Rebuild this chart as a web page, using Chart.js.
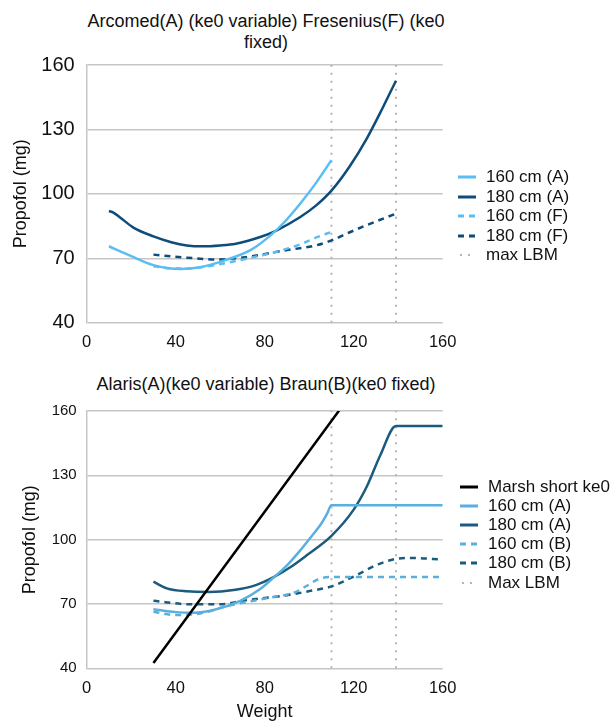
<!DOCTYPE html>
<html>
<head>
<meta charset="utf-8">
<script src="https://cdn.jsdelivr.net/npm/chart.js@4.4.1/dist/chart.umd.min.js"></script>
<style>
    html, body { margin: 0; padding: 0; background: #fff; overflow: hidden; }
    #page { position: relative; width: 614px; height: 721px; font-family: "Liberation Sans", Arial, Helvetica, sans-serif; color: #111; }
    canvas { position: absolute; left: 0; }
    .title { position: absolute; left: 0; width: 532px; text-align: center; font-size: 18px; line-height: 21px; }
    .legend { position: absolute; font-size: 17px; }
    .legend .item { position: absolute; left: 0; height: 20px; white-space: nowrap; display: flex; align-items: center; }
    .legend svg { margin-right: 10px; }
</style>
</head>
<body>
<div id="page">
    <div class="title" style="top:11px">Arcomed(A) (ke0 variable) Fresenius(F) (ke0<br>fixed)</div>
    <canvas id="topChart" width="614" height="360" style="top:0"></canvas>
    <div class="legend" id="topLegend" style="left:458px; top:167px"></div>

    <div class="title" style="top:374px">Alaris(A)(ke0 variable) Braun(B)(ke0 fixed)</div>
    <canvas id="bottomChart" width="614" height="361" style="top:360px"></canvas>
    <div class="legend" id="bottomLegend" style="left:460px; top:477px"></div>
</div>

<script>
// axis ticks
const weightTicks = [0, 40, 80, 120, 160];
const doseTicks = [40, 70, 100, 130, 160];
const maxLBM = [110, 139];

// Arcomed (A) / Fresenius (F)
const arcoWeight160 = [10, 20, 30, 42, 51, 62, 74, 83, 89, 96, 103, 110];
const arco160 = [75.6, 71.0, 66.8, 65.0, 65.8, 69.0, 74.0, 81.0, 87.0, 95.5, 105.0, 115.7];
const arcoWeight180 = [10, 12, 15, 21, 30, 38, 45, 52, 60, 67, 78, 85, 96, 103, 110, 118, 126, 133, 139];
const arco180 = [92.0, 91.3, 89.0, 84.3, 80.2, 77.5, 76.0, 75.6, 76.0, 76.8, 79.9, 82.8, 89.2, 94.5, 101.5, 112.5, 126.0, 140.0, 152.7];
const freWeight160 = [30, 40, 50, 60, 74, 87, 96, 103, 110];
const fre160 = [66.3, 65.2, 65.6, 67.3, 70.3, 73.5, 76.5, 79.6, 82.3];
const freWeight180 = [30, 45, 58, 74, 88, 103, 110, 118, 126, 139];
const fre180 = [71.7, 70.3, 69.4, 70.9, 73.5, 76.0, 78.3, 82.0, 85.5, 90.8];

// Marsh / Alaris (A) / Braun (B)
const marshWeight = [30, 114];
const marsh = [42.5, 161];
const alarisWeight160 = [30, 40, 48, 57, 69, 78, 84, 90, 96, 101, 105, 108, 110, 160];
const alaris160 = [67.5, 66.2, 65.9, 67.2, 71.5, 77.0, 82.3, 88.0, 95.0, 101.5, 106.8, 112.0, 116.0, 116.0];
const alarisWeight180 = [30, 36, 45, 55, 66, 76, 84, 92, 99, 110, 120, 126, 132, 139, 160];
const alaris180 = [80.4, 77.3, 75.9, 75.6, 76.5, 78.8, 82.5, 87.5, 92.8, 101.8, 114.0, 125.0, 139.5, 153.0, 153.0];
const braunWeight160 = [30, 40, 51, 64, 75, 84, 93, 99, 104, 110, 160];
const braun160 = [66.4, 64.8, 65.6, 69.3, 71.5, 73.3, 75.2, 78.5, 81.5, 82.6, 82.6];
const braunWeight180 = [30, 46, 60, 72, 90, 100, 110, 121, 131, 139, 146, 160];
const braun180 = [71.5, 69.9, 69.9, 71.8, 74.1, 76.0, 78.2, 83.3, 88.5, 91.0, 91.5, 90.7];

const DASH = [6, 5];
const DOTS = [2, 6];
const GRID = '#c6c6c6';
const LBM_COLOR = '#b4b4b4';

function toPoints(xs, ys) {
    return xs.map((x, i) => ({ x: x, y: ys[i] }));
}

function curve(label, xs, ys, color, dash) {
    return {
        label: label,
        data: toPoints(xs, ys),
        borderColor: color,
        backgroundColor: color,
        borderWidth: 2.5,
        borderDash: dash,
        pointRadius: 0,
        cubicInterpolationMode: 'monotone',
        fill: false
    };
}

function lbmLines(label) {
    // two vertical dotted lines, split by a gap point
    const pts = [];
    maxLBM.forEach((w, i) => {
        if (i > 0) pts.push({ x: (maxLBM[i - 1] + w) / 2, y: null });
        pts.push({ x: w, y: doseTicks[0] });
        pts.push({ x: w, y: doseTicks[doseTicks.length - 1] });
    });
    return {
        label: label,
        data: pts,
        borderColor: LBM_COLOR,
        backgroundColor: LBM_COLOR,
        borderWidth: 2,
        borderDash: DOTS,
        pointRadius: 0,
        tension: 0,
        spanGaps: false,
        fill: false
    };
}

function makeChart(canvasId, datasets, o) {
    const ctx = document.getElementById(canvasId).getContext('2d');
    return new Chart(ctx, {
        type: 'line',
        data: { datasets: datasets },
        options: {
            responsive: false,
            animation: false,
            devicePixelRatio: 1,
            layout: { padding: { left: 0, right: 171.3, top: o.top, bottom: o.bottom } },
            plugins: { legend: { display: false }, title: { display: false }, tooltip: { enabled: false } },
            scales: {
                x: {
                    type: 'linear',
                    min: weightTicks[0],
                    max: weightTicks[weightTicks.length - 1],
                    afterBuildTicks: s => { s.ticks = weightTicks.map(v => ({ value: v })); },
                    afterFit: s => { s.height = o.xHeight; },
                    grid: { display: false, drawTicks: false },
                    border: { display: false },
                    ticks: { color: '#111', padding: 10, font: { size: 16.5, family: '"Liberation Sans", Arial, sans-serif' } },
                    title: o.xTitle ? {
                        display: true, text: o.xTitle, color: '#111', padding: 0,
                        font: { size: 18, lineHeight: 1.0, family: '"Liberation Sans", Arial, sans-serif' }
                    } : { display: false }
                },
                y: {
                    min: doseTicks[0],
                    max: doseTicks[doseTicks.length - 1],
                    afterBuildTicks: s => { s.ticks = doseTicks.map(v => ({ value: v })); },
                    afterFit: s => { s.width = 86.7; },
                    grid: { color: GRID, lineWidth: 1.5, drawTicks: false },
                    border: { display: true, color: GRID, width: 1.5 },
                    ticks: { color: '#111', padding: o.yPad, font: { size: o.yFont, family: '"Liberation Sans", Arial, sans-serif' } },
                    title: {
                        display: true, text: 'Propofol (mg)', color: '#111',
                        padding: { top: o.yTitlePad, bottom: 0 },
                        font: { size: 18, lineHeight: 1.2, family: '"Liberation Sans", Arial, sans-serif' }
                    }
                }
            }
        }
    });
}

function buildLegend(elId, chart, gap) {
    const el = document.getElementById(elId);
    chart.data.datasets.forEach((ds, i) => {
        const item = document.createElement('div');
        item.className = 'item';
        item.style.top = (i * gap) + 'px';
        const dash = ds.borderDash && ds.borderDash.length ? ds.borderDash.join(',') : 'none';
        const w = ds.borderDash === DOTS ? 2 : 3;
        item.innerHTML =
            `<svg width="18" height="6"><line x1="${ds.borderDash === DOTS ? 2 : 0}" y1="3" x2="18" y2="3" ` +
            `stroke="${ds.borderColor}" stroke-width="${w}" stroke-dasharray="${dash}"/></svg>` +
            `<span>${ds.label}</span>`;
        el.appendChild(item);
    });
}

const LIGHT_TOP = '#5bbdf1';
const DARK_TOP = '#0e4d7b';
const LIGHT_BOT = '#5aafdf';
const DARK_BOT = '#1c5b7d';

const topChart = makeChart('topChart', [
    curve('160 cm (A)', arcoWeight160, arco160, LIGHT_TOP, []),
    curve('180 cm (A)', arcoWeight180, arco180, DARK_TOP, []),
    curve('160 cm (F)', freWeight160, fre160, LIGHT_TOP, DASH),
    curve('180 cm (F)', freWeight180, fre180, DARK_TOP, DASH),
    lbmLines('max LBM')
], { top: 65, bottom: 7.3, xHeight: 30, yPad: 12, yFont: 20, yTitlePad: 10 });

const bottomChart = makeChart('bottomChart', [
    curve('Marsh short ke0', marshWeight, marsh, '#000000', []),
    curve('160 cm (A)', alarisWeight160, alaris160, LIGHT_BOT, []),
    curve('180 cm (A)', alarisWeight180, alaris180, DARK_BOT, []),
    curve('160 cm (B)', braunWeight160, braun160, LIGHT_BOT, DASH),
    curve('180 cm (B)', braunWeight180, braun180, DARK_BOT, DASH),
    lbmLines('Max LBM')
], { top: 51, bottom: 0, xHeight: 52.7, xTitle: 'Weight', yPad: 10, yFont: 15, yTitlePad: 19 });

buildLegend('topLegend', topChart, 19.5);
buildLegend('bottomLegend', bottomChart, 19.1);
</script>
</body>
</html>
